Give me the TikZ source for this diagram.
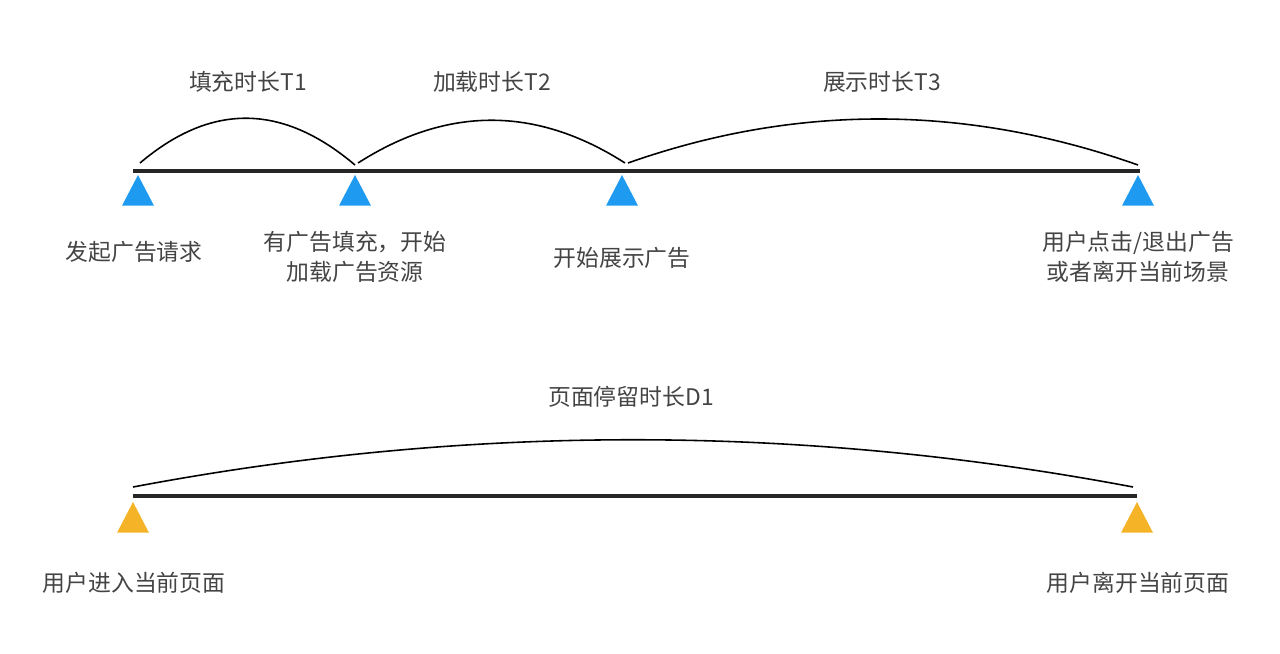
\documentclass[tikz,border=0pt]{standalone}
\usepackage{fontspec}
\setmainfont{Noto Sans CJK SC}
\usetikzlibrary{positioning, shapes.geometric}
\definecolor{adblue}{HTML}{1E9BF0}
\definecolor{pageorange}{HTML}{F5B428}
\definecolor{labelgray}{HTML}{444444}

\begin{document}
\begin{tikzpicture}[x=0.02cm, y=-0.02cm, every node/.style={text=labelgray, font=\fontsize{13}{17}\selectfont, align=center}]
    \tikzstyle{axis}=[draw=black!85, line width=2.2pt]
    \tikzstyle{span}=[draw=black, line width=0.9pt]
    \tikzstyle{marker}=[isosceles triangle, shape border rotate=90, isosceles triangle apex angle=55, minimum width=0.64cm, minimum height=0.6cm, inner sep=0pt, draw=none]
    \tikzstyle{ad marker}=[marker, fill=adblue]
    \tikzstyle{page marker}=[marker, fill=pageorange]

    \useasboundingbox (0,0) rectangle (1280,653);

    % Ad timeline
    \coordinate (L1) at (133,171);
    \coordinate (R1) at (1140,171);
    \draw[axis] (L1) -- (R1);

    \node[ad marker] (A1) at (138,196) {};
    \node[ad marker] (A2) at (355,196) {};
    \node[ad marker] (A3) at (622,196) {};
    \node[ad marker] (A4) at (1138,196) {};

    \node (A1-t) at (134,252) {发起广告请求};
    \node (A2-t) at (355,257) {有广告填充，开始\\加载广告资源};
    \node (A3-t) at (622,258) {开始展示广告};
    \node (A4-t) at (1138,257) {用户点击/退出广告\\或者离开当前场景};

    % Spans
    \coordinate (S1) at (140,163);
    \coordinate (S2) at (355,165);
    \coordinate (S3) at (358,163);
    \coordinate (S4) at (625,163);
    \coordinate (S5) at (628,163);
    \coordinate (S6) at (1138,165);
    \draw[span] (S1) .. controls +(72,-61) and +(-72,-61) .. (S2);
    \draw[span] (S3) .. controls +(89,-57) and +(-89,-57) .. (S4);
    \draw[span] (S5) .. controls +(170,-60) and +(-170,-60) .. (S6);

    \node (T1) at (248,82) {填充时长T1};
    \node (T2) at (492,82) {加载时长T2};
    \node (T3) at (882,82) {展示时长T3};

    % Page timeline
    \coordinate (L2) at (133,496);
    \coordinate (R2) at (1137,496);
    \draw[axis] (L2) -- (R2);

    \node[page marker] (P1) at (133,523) {};
    \node[page marker] (P2) at (1137,523) {};

    \node (P1-t) at (134,583) {用户进入当前页面};
    \node (P2-t) at (1138,583) {用户离开当前页面};

    \coordinate (D-a) at (133,487);
    \coordinate (D-b) at (1133,487);
    \draw[span] (D-a) .. controls +(333,-63) and +(-333,-63) .. (D-b);
    \node (D1) at (631,397) {页面停留时长D1};

\end{tikzpicture}
\end{document}
